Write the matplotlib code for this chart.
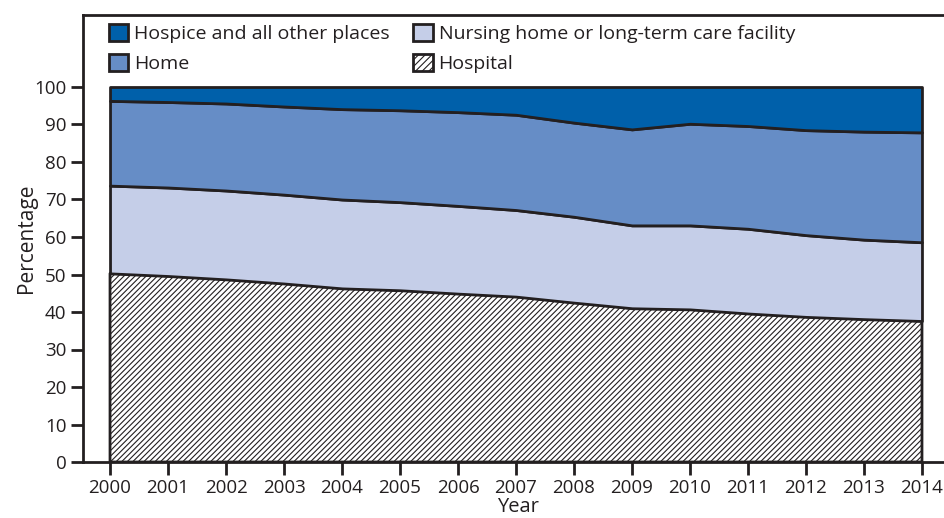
"""Place of death, 2000-2014: stacked area chart (percentage by location)."""

import matplotlib
matplotlib.use("Agg")
import matplotlib.pyplot as plt
from matplotlib.patches import Patch

years = list(range(2000, 2015))

# share of deaths by place (percent), bottom to top
hospital = [50.3, 49.6, 48.7, 47.6, 46.3, 45.8, 44.9, 44.1, 42.5, 41.0, 40.7, 39.6, 38.7, 38.1, 37.6]
nursing = [23.4, 23.6, 23.7, 23.7, 23.7, 23.5, 23.4, 23.1, 22.9, 22.1, 22.4, 22.6, 21.8, 21.2, 21.0]
home = [22.6, 22.8, 23.2, 23.5, 24.1, 24.5, 25.0, 25.4, 25.1, 25.6, 27.1, 27.4, 28.0, 28.8, 29.3]
hospice = [3.7, 4.0, 4.4, 5.2, 5.9, 6.2, 6.7, 7.4, 9.5, 11.3, 9.8, 10.4, 11.5, 11.9, 12.1]

labels = ["Hospital", "Nursing home or long-term care facility", "Home",
          "Hospice and all other places"]
colors = ["white", "#c5cee8", "#668dc6", "#0060aa"]
yticks = list(range(0, 101, 10))

INK = "#231f20"

plt.rcParams["font.family"] = ["Open Sans", "DejaVu Sans"]
plt.rcParams["hatch.color"] = "#7f7f7f"
plt.rcParams["hatch.linewidth"] = 0.8

fig = plt.figure(figsize=(9.45, 5.18), dpi=100)
ax = fig.add_axes([83 / 945, 56 / 518, 1 - 83 / 945, 447 / 518])

polys = ax.stackplot(years, hospital, nursing, home, hospice,
                     colors=colors, edgecolor=INK, linewidth=2)
polys[0].set_hatch("//////")

ax.set_xlim(1999.534, 2014.397)
ax.set_ylim(0, 119.2)
ax.set_xticks(years)
ax.set_yticks(yticks)
ax.tick_params(axis="both", direction="out", length=9, width=2, color=INK,
               labelsize=13.5, labelcolor=INK)
ax.tick_params(axis="y", pad=3)
ax.tick_params(axis="x", pad=3)
for side in ("left", "top", "bottom"):
    ax.spines[side].set_linewidth(2)
    ax.spines[side].set_color(INK)
ax.spines["right"].set_visible(False)

ax.set_ylabel("Percentage", fontsize=15, color=INK, labelpad=-2)
# x-axis title sits right against the figure bottom, below the tick labels
fig.text(518 / 945, 0.5 / 518, "Year", fontsize=14.5, color=INK,
         ha="center", va="bottom")

handles = [Patch(facecolor=colors[3], edgecolor=INK, linewidth=2),
           Patch(facecolor=colors[2], edgecolor=INK, linewidth=2),
           Patch(facecolor=colors[1], edgecolor=INK, linewidth=2),
           Patch(facecolor="white", edgecolor=INK, linewidth=2, hatch="/////")]
leg_labels = [labels[3], labels[2], labels[1], labels[0]]
fig.legend(handles, leg_labels, ncol=2, loc="upper left",
           bbox_to_anchor=(109 / 945, 1 - 24 / 518), frameon=False,
           fontsize=14, handlelength=1.0, handleheight=1.0,
           handletextpad=0.3, columnspacing=1.2, labelspacing=0.55,
           borderpad=0, borderaxespad=0, labelcolor=INK)

fig.savefig("out.png", dpi=100)
